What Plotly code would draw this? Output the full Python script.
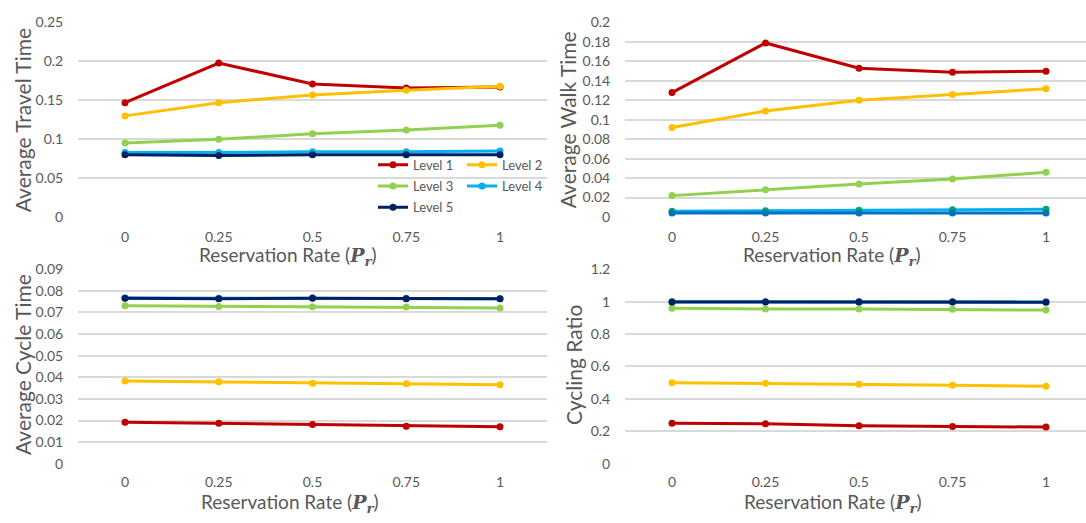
import plotly.graph_objects as go

# ---------------- data ----------------
rates = [0, 0.25, 0.5, 0.75, 1]
rate_labels = ["0", "0.25", "0.5", "0.75", "1"]
levels = ["Level 1", "Level 2", "Level 3", "Level 4", "Level 5"]

travel_l1 = [0.147, 0.198, 0.171, 0.166, 0.167]
travel_l2 = [0.130, 0.147, 0.157, 0.163, 0.168]
travel_l3 = [0.095, 0.100, 0.107, 0.112, 0.118]
travel_l4 = [0.083, 0.083, 0.084, 0.084, 0.085]
travel_l5 = [0.080, 0.079, 0.080, 0.080, 0.080]

walk_l1 = [0.128, 0.179, 0.153, 0.149, 0.150]
walk_l2 = [0.092, 0.109, 0.120, 0.126, 0.132]
walk_l3 = [0.022, 0.028, 0.034, 0.039, 0.046]
walk_l4 = [0.006, 0.0065, 0.007, 0.0075, 0.008]
walk_l5 = [0.004, 0.004, 0.004, 0.004, 0.004]

cycle_l1 = [0.0192, 0.0187, 0.0181, 0.0174, 0.0171]
cycle_l2 = [0.0383, 0.0379, 0.0373, 0.0370, 0.0366]
cycle_l3 = [0.0731, 0.0728, 0.0727, 0.0725, 0.0721]
cycle_l4 = [0.0767, 0.0766, 0.0768, 0.0766, 0.0764]
cycle_l5 = [0.0766, 0.0764, 0.0766, 0.0764, 0.0763]

ratio_l1 = [0.250, 0.246, 0.235, 0.230, 0.226]
ratio_l2 = [0.500, 0.496, 0.490, 0.485, 0.478]
ratio_l3 = [0.960, 0.955, 0.955, 0.953, 0.948]
ratio_l4 = [1.000, 1.000, 1.000, 1.000, 0.999]
ratio_l5 = [0.998, 0.998, 0.998, 0.998, 0.997]

# ---------------- styles ----------------
colors = ["#C00000", "#FFC000", "#92D050", "#00B0F0", "#002060"]
walk_line_colors = ["#C00000", "#FFC000", "#92D050", "#00B0F0", "#0070C0"]
walk_marker_colors = ["#C00000", "#FFC000", "#92D050", "#00B050", "#0070C0"]
FONT = "Lato"
GREY = "#595959"
GRID = "#D9D9D9"
W, H = 1086, 523

fig = go.Figure()

panels = [
    ([travel_l1, travel_l2, travel_l3, travel_l4, travel_l5], "x", "y", colors, colors, True),
    ([walk_l1, walk_l2, walk_l3, walk_l4, walk_l5], "x2", "y2", walk_line_colors, walk_marker_colors, False),
    ([cycle_l1, cycle_l2, cycle_l3, cycle_l4, cycle_l5], "x3", "y3", colors, colors, False),
    ([ratio_l1, ratio_l2, ratio_l3, ratio_l4, ratio_l5], "x4", "y4", colors, colors, False),
]
legend_of = ["legend", "legend", "legend2", "legend2", "legend3"]

for series, xa, ya, lcols, mcols, showleg in panels:
    for i, vals in enumerate(series):
        fig.add_trace(go.Scatter(
            x=rates, y=vals, name=levels[i], mode="lines+markers",
            line=dict(color=lcols[i], width=3),
            marker=dict(color=mcols[i], size=7),
            xaxis=xa, yaxis=ya, showlegend=showleg,
            legend=legend_of[i] if showleg else None,
        ))

def px_x(p):
    return p / W

def px_y(p):
    return 1 - p / H

xcommon = dict(tickvals=rates, ticktext=rate_labels, showgrid=False, zeroline=False,
               showline=False, ticks="outside", tickcolor="rgba(0,0,0,0)",
               tickfont=dict(family=FONT, size=14, color=GREY), fixedrange=True)
ycommon = dict(showgrid=True, gridcolor=GRID, gridwidth=1.5, zeroline=False, showline=False,
               ticks="outside", ticklen=11, tickcolor="rgba(0,0,0,0)",
               tickfont=dict(family=FONT, size=14, color=GREY), fixedrange=True)

left_dom = [px_x(78), px_x(547)]
left_rng = [-(125 - 78) / 375, -(125 - 78) / 375 + (547 - 78) / 375]
right_dom = [px_x(625), 1.0]
right_rng = [-(672 - 625) / 374, -(672 - 625) / 374 + (W - 625) / 374]
top_dom = [px_y(215), px_y(14)]
bot_dom = [px_y(470), px_y(269)]

fig.update_layout(
    width=W, height=H,
    margin=dict(l=0, r=0, t=0, b=0),
    paper_bgcolor="white", plot_bgcolor="white",
    xaxis=dict(domain=left_dom, range=left_rng, anchor="y", ticklen=7, **xcommon),
    yaxis=dict(domain=top_dom, range=[0, 0.25], dtick=0.05, anchor="x", **ycommon),
    xaxis2=dict(domain=right_dom, range=right_rng, anchor="y2", ticklen=7, **xcommon),
    yaxis2=dict(domain=top_dom, range=[0, 0.2], dtick=0.02, anchor="x2", **ycommon),
    xaxis3=dict(domain=left_dom, range=left_rng, anchor="y3", ticklen=5, **xcommon),
    yaxis3=dict(domain=bot_dom, range=[0, 0.09], dtick=0.01, anchor="x3", **ycommon),
    xaxis4=dict(domain=right_dom, range=right_rng, anchor="y4", ticklen=5, **xcommon),
    yaxis4=dict(domain=bot_dom, range=[0, 1.2], dtick=0.2, anchor="x4", **ycommon),
)

legcommon = dict(orientation="h", xanchor="left", yanchor="middle", bgcolor="rgba(0,0,0,0)",
                 font=dict(family=FONT, size=13, color=GREY), itemwidth=30,
                 entrywidth=44, entrywidthmode="pixels", tracegroupgap=0,
                 itemclick=False, itemdoubleclick=False)
fig.update_layout(
    legend=dict(x=px_x(373), y=px_y(161), **legcommon),
    legend2=dict(x=px_x(373), y=px_y(183), **legcommon),
    legend3=dict(x=px_x(373), y=px_y(205), **legcommon),
)

P = ('<span style="font-family:\'DejaVu Serif\'"><b><i>P</i></b></span>'
     '<sub><span style="font-family:\'DejaVu Serif\'"><b><i>r</i></b></span></sub>')
xtitle = "Reservation Rate (" + P + ")"
annos = [
    dict(text="Average Travel Time", x=px_x(22), y=px_y(115), textangle=-90, size=21),
    dict(text="Average Walk Time", x=px_x(567), y=px_y(115), textangle=-90, size=21),
    dict(text="Average Cycle Time", x=px_x(22), y=px_y(368), textangle=-90, size=21),
    dict(text="Cycling Ratio", x=px_x(573), y=px_y(368), textangle=-90, size=21),
    dict(text=xtitle, x=px_x(288), y=px_y(255), textangle=0, size=19),
    dict(text=xtitle, x=px_x(832), y=px_y(255), textangle=0, size=19),
    dict(text=xtitle, x=px_x(290), y=px_y(511), textangle=0, size=19),
    dict(text=xtitle, x=px_x(833), y=px_y(511), textangle=0, size=19),
]
for a in annos:
    fig.add_annotation(text=a["text"], x=a["x"], y=a["y"], xref="paper", yref="paper",
                       xanchor="center", yanchor="middle", showarrow=False,
                       textangle=a["textangle"],
                       font=dict(family=FONT, size=a["size"], color=GREY))

fig.write_html("out.html", config={"displayModeBar": False},
               post_script="document.body.style.margin='0';")
